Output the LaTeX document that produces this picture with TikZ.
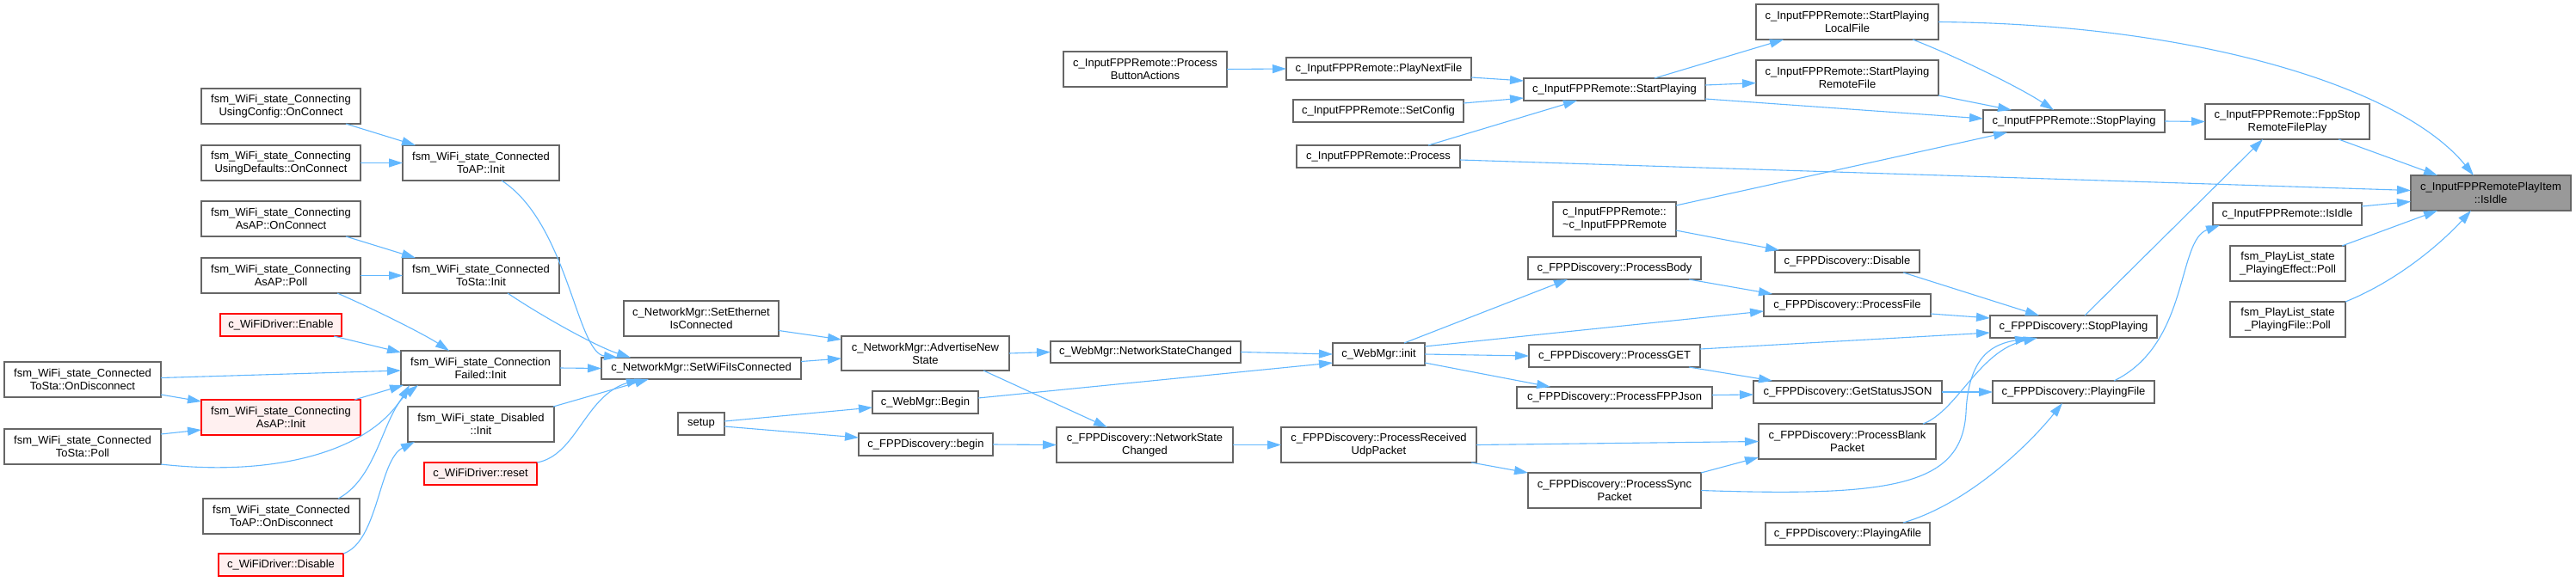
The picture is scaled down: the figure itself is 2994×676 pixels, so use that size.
\documentclass[tikz,border=0pt]{standalone}
\usepackage{fontspec}
\setmainfont{Liberation Sans}
\usetikzlibrary{arrows.meta,calc}
\definecolor{edgec}{HTML}{63B8FF}
\definecolor{bord}{HTML}{666666}
\definecolor{redf}{HTML}{FFF0F0}
\definecolor{grayf}{HTML}{999999}
\newcommand\mkbox[7]{\node[#1,minimum width={(#5-#3)*0.5pt},minimum height={(#6-#4)*0.5pt}] (#2) at ({(#3+#5)/2},{(#4+#6)/2}) {#7};}
\begin{document}
\begin{tikzpicture}[x=0.5pt,y=-0.5pt,
  font=\fontsize{6.5pt}{7.5pt}\selectfont,
  nbox/.style={draw=bord,fill=white,line width=0.65pt,inner sep=0pt,outer sep=0pt,align=center},
  rnbox/.style={nbox,draw=red,fill=redf},
  gnbox/.style={nbox,fill=grayf},
  cl/.style={draw=edgec,line width=0.55pt,-{Triangle[length=8pt,width=5pt]}}]
\fill[white] (0,0) rectangle (2994,676);
\useasboundingbox (0,0) rectangle (2994,676);
% column 0
\mkbox{nbox}{tsod}{5}{421}{187}{462}{fsm\_WiFi\_state\_Connected\\ToSta::OnDisconnect}
\mkbox{nbox}{tspoll}{5}{499}{187}{540}{fsm\_WiFi\_state\_Connected\\ToSta::Poll}
% column 1
\mkbox{nbox}{ucfg}{234}{103}{419}{144}{fsm\_WiFi\_state\_Connecting\\UsingConfig::OnConnect}
\mkbox{nbox}{udef}{234}{169}{419}{210}{fsm\_WiFi\_state\_Connecting\\UsingDefaults::OnConnect}
\mkbox{nbox}{aaoc}{234}{234}{419}{275}{fsm\_WiFi\_state\_Connecting\\AsAP::OnConnect}
\mkbox{nbox}{aapoll}{234}{300}{419}{341}{fsm\_WiFi\_state\_Connecting\\AsAP::Poll}
\mkbox{rnbox}{enable}{256}{365}{397}{391}{c\_WiFiDriver::Enable}
\mkbox{rnbox}{aainit}{234}{465}{419}{506}{fsm\_WiFi\_state\_Connecting\\AsAP::Init}
\mkbox{nbox}{taod}{236}{580}{418}{621}{fsm\_WiFi\_state\_Connected\\ToAP::OnDisconnect}
\mkbox{rnbox}{disable}{254}{644}{399}{670}{c\_WiFiDriver::Disable}
% column 2
\mkbox{nbox}{tainit}{468}{169}{650}{210}{fsm\_WiFi\_state\_Connected\\ToAP::Init}
\mkbox{nbox}{tsinit}{468}{300}{650}{341}{fsm\_WiFi\_state\_Connected\\ToSta::Init}
\mkbox{nbox}{cfinit}{466}{408}{651}{448}{fsm\_WiFi\_state\_Connection\\Failed::Init}
\mkbox{nbox}{dsinit}{474}{473}{644}{514}{fsm\_WiFi\_state\_Disabled\\::Init}
\mkbox{rnbox}{reset}{493}{538}{624}{564}{c\_WiFiDriver::reset}
% column 3
\mkbox{nbox}{seteth}{725}{350}{905}{391}{c\_NetworkMgr::SetEthernet\\IsConnected}
\mkbox{nbox}{setwifi}{699}{416}{931}{441}{c\_NetworkMgr::SetWiFiIsConnected}
\mkbox{nbox}{setup}{788}{480}{842}{506}{setup}
% column 4
\mkbox{nbox}{adv}{978}{391}{1173}{431}{c\_NetworkMgr::AdvertiseNew\\State}
\mkbox{nbox}{wbegin}{1014}{455}{1137}{481}{c\_WebMgr::Begin}
\mkbox{nbox}{fbegin}{998}{504}{1154}{530}{c\_FPPDiscovery::begin}
% column 5
\mkbox{nbox}{pba}{1236}{60}{1426}{101}{c\_InputFPPRemote::Process\\ButtonActions}
\mkbox{nbox}{wnsc}{1221}{397}{1442}{422}{c\_WebMgr::NetworkStateChanged}
\mkbox{nbox}{fnsc}{1228}{497}{1433}{538}{c\_FPPDiscovery::NetworkState\\Changed}
% column 6
\mkbox{nbox}{pnf}{1495}{67}{1710}{93}{c\_InputFPPRemote::PlayNextFile}
\mkbox{nbox}{setcfg}{1503}{116}{1701}{142}{c\_InputFPPRemote::SetConfig}
\mkbox{nbox}{process}{1507}{169}{1697}{195}{c\_InputFPPRemote::Process}
\mkbox{nbox}{winit}{1549}{399}{1656}{425}{c\_WebMgr::init}
\mkbox{nbox}{prudp}{1489}{497}{1716}{538}{c\_FPPDiscovery::ProcessReceived\\UdpPacket}
% column 7
\mkbox{nbox}{startp}{1771}{91}{1982}{117}{c\_InputFPPRemote::StartPlaying}
\mkbox{nbox}{dtor}{1805}{235}{1948}{275}{c\_InputFPPRemote::\\\textasciitilde c\_InputFPPRemote}
\mkbox{nbox}{pbody}{1776}{299}{1977}{325}{c\_FPPDiscovery::ProcessBody}
\mkbox{nbox}{pget}{1777}{401}{1976}{427}{c\_FPPDiscovery::ProcessGET}
\mkbox{nbox}{pjson}{1763}{450}{1990}{475}{c\_FPPDiscovery::ProcessFPPJson}
\mkbox{nbox}{psync}{1776}{550}{1977}{591}{c\_FPPDiscovery::ProcessSync\\Packet}
% column 8
\mkbox{nbox}{splf}{2041}{5}{2253}{46}{c\_InputFPPRemote::StartPlaying\\LocalFile}
\mkbox{nbox}{sprf}{2041}{70}{2253}{111}{c\_InputFPPRemote::StartPlaying\\RemoteFile}
\mkbox{nbox}{fdis}{2063}{291}{2231}{317}{c\_FPPDiscovery::Disable}
\mkbox{nbox}{pfile}{2050}{342}{2244}{368}{c\_FPPDiscovery::ProcessFile}
\mkbox{nbox}{gsj}{2038}{443}{2257}{469}{c\_FPPDiscovery::GetStatusJSON}
\mkbox{nbox}{pblank}{2044}{493}{2250}{534}{c\_FPPDiscovery::ProcessBlank\\Packet}
\mkbox{nbox}{pafile}{2052}{608}{2243}{634}{c\_FPPDiscovery::PlayingAfile}
% column 9
\mkbox{nbox}{istop}{2305}{128}{2516}{154}{c\_InputFPPRemote::StopPlaying}
\mkbox{nbox}{fstop}{2313}{367}{2507}{393}{c\_FPPDiscovery::StopPlaying}
\mkbox{nbox}{pfl}{2316}{443}{2504}{469}{c\_FPPDiscovery::PlayingFile}
% column 10
\mkbox{nbox}{fsrfp}{2563}{121}{2754}{162}{c\_InputFPPRemote::FppStop\\RemoteFilePlay}
\mkbox{nbox}{iidle}{2572}{236}{2745}{262}{c\_InputFPPRemote::IsIdle}
\mkbox{nbox}{peff}{2592}{286}{2726}{327}{fsm\_PlayList\_state\\\_PlayingEffect::Poll}
\mkbox{nbox}{pfpoll}{2592}{351}{2726}{392}{fsm\_PlayList\_state\\\_PlayingFile::Poll}
% target
\mkbox{gnbox}{target}{2802}{204}{2988}{245}{c\_InputFPPRemotePlayItem\\::IsIdle}
% edges
\draw[cl] ($(ucfg.south east)+(-17,0)$) -- ($(tainit.north west)+(15,0)$);
\draw[cl] (udef.east) -- (tainit.west);
\draw[cl] ($(aaoc.south east)+(-17,0)$) -- ($(tsinit.north west)+(15,0)$);
\draw[cl] (aapoll.east) -- (tsinit.west);
\draw[cl] ($(aapoll.south east)+(-27,0)$) .. controls (440,362) and (495,390) .. ($(cfinit.north west)+(56,0)$);
\draw[cl] ($(enable.south east)+(-9,0)$) -- ($(cfinit.north west)+(0,2)$);
\draw[cl] ($(tsod.east)+(0,-2)$) -- ($(cfinit.west)+(0,3)$);
\draw[cl] ($(tsod.south east)+(0,-3)$) -- ($(aainit.north west)+(0,2)$);
\draw[cl] ($(tspoll.north east)+(0,6)$) -- ($(aainit.south west)+(0,-6)$);
\draw[cl] (tspoll.south east) .. controls (320,555) and (430,525) .. ($(cfinit.south west)+(10,0)$);
\draw[cl] ($(aainit.north east)+(-7,0)$) -- ($(cfinit.south west)+(3,0)$);
\draw[cl] ($(taod.north east)+(-25,0)$) .. controls (440,555) and (445,480) .. ($(cfinit.south west)+(20,0)$);
\draw[cl] (disable.north east) .. controls (440,630) and (440,535) .. ($(dsinit.south west)+(8,0)$);
\draw[cl] ($(tainit.south west)+(115,0)$) .. controls (660,260) and (670,410) .. ($(setwifi.north west)+(19,0)$);
\draw[cl] ($(tsinit.south west)+(122,0)$) .. controls (630,368) and (693,403) .. ($(setwifi.north west)+(34,0)$);
\draw[cl] (cfinit.east) -- (setwifi.west);
\draw[cl] ($(dsinit.north east)+(-1,0)$) -- ($(setwifi.south west)+(55,0)$);
\draw[cl] (reset.north east) .. controls (670,530) and (680,460) .. ($(setwifi.south west)+(45,0)$);
\draw[cl] ($(seteth.east)+(0,14)$) -- ($(adv.north west)+(0,4)$);
\draw[cl] ($(setwifi.east)+(0,-8)$) -- ($(adv.west)+(0,6)$);
\draw[cl] ($(setup.east)+(0,-3)$) -- ($(wbegin.west)+(0,6)$);
\draw[cl] ($(setup.east)+(0,3)$) -- ($(fbegin.west)+(0,-8)$);
\draw[cl] (adv.east) -- (wnsc.west);
\draw[cl] ($(adv.south east)+(-30,0)$) -- ($(fnsc.north west)+(59,0)$);
\draw[cl] (fbegin.east) -- (fnsc.west);
\draw[cl] (wnsc.east) -- (winit.west);
\draw[cl] ($(wbegin.east)+(0,-5)$) -- ($(winit.west)+(0,10)$);
\draw[cl] (fnsc.east) -- (prudp.west);
\draw[cl] (pba.east) -- (pnf.west);
\draw[cl] ($(pnf.east)+(0,10)$) -- ($(startp.west)+(0,-10)$);
\draw[cl] ($(setcfg.east)+(0,-9)$) -- ($(startp.west)+(0,10)$);
\draw[cl] ($(process.north east)+(-37,0)$) -- ($(startp.south west)+(62,0)$);
\draw[cl] ($(process.east)+(0,4)$) -- ($(target.west)+(0,-3)$);
\draw[cl] ($(dtor.north east)+(0,4)$) -- ($(istop.south west)+(28,0)$);
\draw[cl] ($(dtor.south east)+(0,-7)$) -- ($(fdis.north west)+(5,0)$);
\draw[cl] ($(winit.north east)+(-24,0)$) -- ($(pbody.south west)+(46,0)$);
\draw[cl] ($(winit.east)+(0,-9)$) -- ($(pfile.west)+(0,7)$);
\draw[cl] (winit.east) -- (pget.west);
\draw[cl] ($(winit.east)+(0,10)$) -- ($(pjson.north west)+(39,0)$);
\draw[cl] ($(pbody.south east)+(-14,0)$) -- ($(pfile.north west)+(10,0)$);
\draw[cl] ($(pget.east)+(0,-8)$) -- ($(fstop.west)+(0,7)$);
\draw[cl] ($(pget.south east)+(-13,0)$) -- ($(gsj.north west)+(22,0)$);
\draw[cl] ($(pjson.east)+(0,-3)$) -- ($(gsj.west)+(0,3)$);
\draw[cl] (prudp.east) -- (pblank.west);
\draw[cl] ($(prudp.south east)+(-6,0)$) -- (psync.north west);
\draw[cl] (psync.north east) -- ($(pblank.south west)+(0,-2)$);
\draw[cl] (psync.east) .. controls (2200,578) and (2280,565) .. (2285,480) .. controls (2288,410) and (2320,400) .. ($(fstop.south west)+(45,0)$);
\draw[cl] ($(pblank.north east)+(-15,0)$) .. controls (2275,478) and (2300,408) .. ($(fstop.south west)+(55,0)$);
\draw[cl] ($(startp.north east)+(-59,0)$) -- ($(splf.south west)+(32,0)$);
\draw[cl] ($(startp.east)+(0,-5)$) -- ($(sprf.west)+(0,6)$);
\draw[cl] ($(startp.south east)+(0,-2)$) -- ($(istop.west)+(0,-3)$);
\draw[cl] ($(splf.south east)+(-30,0)$) .. controls (2265,62) and (2345,100) .. ($(istop.north west)+(82,0)$);
\draw[cl] (sprf.south east) -- ($(istop.north west)+(33,0)$);
\draw[cl] (splf.east) .. controls (2550,28) and (2790,100) .. ($(target.north west)+(73,0)$);
\draw[cl] (istop.east) -- (fsrfp.west);
\draw[cl] ($(fsrfp.south east)+(-36,0)$) -- ($(target.north west)+(31,0)$);
\draw[cl] ($(fstop.north west)+(110,0)$) -- ($(fsrfp.south west)+(67,0)$);
\draw[cl] ($(fdis.south east)+(-19,0)$) -- ($(fstop.north west)+(57,0)$);
\draw[cl] ($(pfile.east)+(0,10)$) -- ($(fstop.west)+(0,-10)$);
\draw[cl] (gsj.east) -- (pfl.west);
\draw[cl] ($(pfl.north east)+(-47,0)$) .. controls (2545,400) and (2530,280) .. ($(iidle.south west)+(8,0)$);
\draw[cl] ($(pafile.north east)+(-31,0)$) .. controls (2290,585) and (2360,515) .. ($(pfl.south west)+(81,0)$);
\draw[cl] ($(iidle.east)+(0,-9)$) -- ($(target.west)+(0,10)$);
\draw[cl] ($(peff.north east)+(-4,0)$) -- ($(target.south west)+(31,0)$);
\draw[cl] (pfpoll.north east) .. controls (2790,325) and (2840,280) .. ($(target.south west)+(70,0)$);
\end{tikzpicture}
\end{document}
